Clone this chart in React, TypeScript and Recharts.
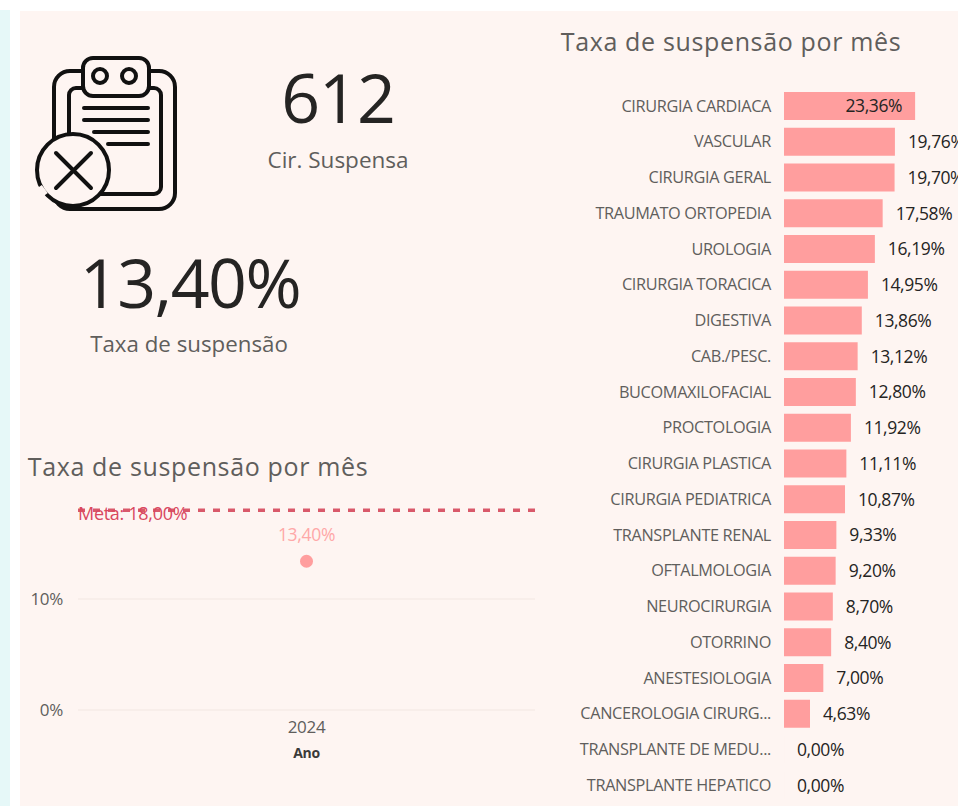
import {
  BarChart, Bar, XAxis, YAxis, LabelList,
  LineChart, Line, CartesianGrid, ReferenceLine,
} from 'recharts'

const especialidades = [
  'CIRURGIA CARDIACA', 'VASCULAR', 'CIRURGIA GERAL', 'TRAUMATO ORTOPEDIA', 'UROLOGIA',
  'CIRURGIA TORACICA', 'DIGESTIVA', 'CAB./PESC.', 'BUCOMAXILOFACIAL', 'PROCTOLOGIA',
  'CIRURGIA PLASTICA', 'CIRURGIA PEDIATRICA', 'TRANSPLANTE RENAL', 'OFTALMOLOGIA', 'NEUROCIRURGIA',
  'OTORRINO', 'ANESTESIOLOGIA', 'CANCEROLOGIA CIRURG...', 'TRANSPLANTE DE MEDU...', 'TRANSPLANTE HEPATICO',
]
const taxas = [
  23.36, 19.76, 19.7, 17.58, 16.19, 14.95, 13.86, 13.12, 12.8, 11.92,
  11.11, 10.87, 9.33, 9.2, 8.7, 8.4, 7.0, 4.63, 0, 0,
]
const anos = ['2024']
const taxaAno = [13.4]
const meta = 18
const ticksAno = [0, 10]

const barData = especialidades.map((nome, i) => ({ nome, taxa: taxas[i] }))
const lineData = anos.map((ano, i) => ({ ano, taxa: taxaAno[i] }))

const FONT = '"Open Sans", "Noto Sans", sans-serif'
const fmt = (v: number) => v.toFixed(2).replace('.', ',') + '%'

const ValueLabel = ({ x, y, width, height, value, index }: any) => {
  const inside = index === 0
  return (
    <text
      x={inside ? x + width - 13 : x + width + 13}
      y={y + height / 2}
      dy="0.36em"
      textAnchor={inside ? 'end' : 'start'}
      fontSize={17.5}
      letterSpacing={-0.4}
      fill="#252423"
    >
      {fmt(value)}
    </text>
  )
}

const MetaLabel = ({ viewBox }: any) => (
  <text x={viewBox.x} y={viewBox.y + 3} dy="0.36em" fontSize={18} letterSpacing={-0.3} fill="#d9485f">
    Meta: {fmt(meta)}
  </text>
)

const AnoTick = ({ x, y, payload }: any) => (
  <g>
    <text x={x} y={y + 9} dy="0.36em" textAnchor="middle" fontSize={17} letterSpacing={-0.3} fill="#605e5c">
      {payload.value}
    </text>
    <text x={x} y={y + 35} dy="0.36em" textAnchor="middle" fontSize={14} fontWeight={700} letterSpacing={-0.3} fill="#3b3a39">
      Ano
    </text>
  </g>
)

const PANEL = '#fef5f2'

const ClipboardIcon = () => (
  <svg width={160} height={170} style={{ position: 'absolute', left: 30, top: 50 }} fill="none" stroke="#111" strokeWidth={4} strokeLinecap="round">
    <rect x={24} y={21} width={121} height={138} rx={16} />
    <rect x={39} y={38} width={92} height={106} rx={7} />
    <rect x={53} y={8} width={66} height={38} rx={10} fill={PANEL} />
    <circle cx={70} cy={26} r={7} />
    <circle cx={99} cy={26} r={7} />
    <path d="M54 58H118M54 70H118M64 82H118M78 94H118" />
    <circle cx={43} cy={120} r={36} fill={PANEL} />
    <path d="M26 103L61 138M61 103L26 138" />
    <path d="M9 137L15 145" stroke={PANEL} strokeWidth={7} strokeLinecap="butt" />
  </svg>
)

const textStyle = (left: number, top: number, fontSize: number, color: string, extra = {}) => ({
  position: 'absolute' as const, left, top, fontSize, color, lineHeight: 1, whiteSpace: 'nowrap' as const,
  transform: 'translate(-50%, -50%)', ...extra,
})

export default function App() {
  return (
    <div style={{ position: 'absolute', left: 0, top: 0, width: 958, height: 806, overflow: 'hidden', background: '#fff', fontFamily: FONT }}>
      <div style={{ position: 'absolute', left: 0, top: 10, width: 10, height: 796, background: '#e6f8f8' }} />
      <div style={{ position: 'absolute', left: 20, top: 11, width: 938, height: 795, background: PANEL }} />

      <ClipboardIcon />
      <div style={textStyle(338, 97, 68, '#252423', { letterSpacing: -1 })}>612</div>
      <div style={textStyle(338, 160, 22.5, '#605e5c')}>Cir. Suspensa</div>
      <div style={textStyle(190, 282, 68, '#252423', { letterSpacing: -1.5 })}>13,40%</div>
      <div style={textStyle(189, 344, 22.3, '#605e5c')}>Taxa de suspensão</div>
      <div style={{ ...textStyle(731, 41, 25, '#605e5c'), letterSpacing: 0.65 }}>Taxa de suspensão por mês</div>
      <div style={{ ...textStyle(198, 466, 25, '#605e5c'), letterSpacing: 0.65 }}>Taxa de suspensão por mês</div>

      <div style={{ position: 'absolute', left: 0, top: 478 }}>
        <LineChart width={550} height={300} data={lineData} margin={{ top: 10, right: 15, bottom: 0, left: 0 }}>
          <CartesianGrid horizontal vertical={false} syncWithTicks stroke="#f8eeea" strokeWidth={2} />
          <XAxis dataKey="ano" height={68} axisLine={false} tickLine={false} tick={<AnoTick />} interval={0} />
          <YAxis
            width={78}
            domain={[0, 20]}
            ticks={ticksAno}
            tickFormatter={(v: number) => `${v}%`}
            axisLine={false}
            tickLine={false}
            tickSize={0}
            tickMargin={15}
            tick={{ fontSize: 17, fill: '#605e5c', letterSpacing: -0.3 }}
          />
          <ReferenceLine
            y={meta}
            stroke="#d9596a"
            strokeWidth={3.5}
            strokeDasharray="7 8"
            label={<MetaLabel />}
          />
          <Line
            dataKey="taxa"
            stroke="#ff9e9e"
            strokeWidth={3}
            dot={{ r: 6.5, fill: '#ff9e9e', stroke: '#ff9e9e', strokeWidth: 0 }}
            isAnimationActive={false}
          >
            <LabelList
              dataKey="taxa"
              position="top"
              offset={20}
              formatter={(v: any) => fmt(v)}
              fontSize={17.5}
              fill="#ffa8a8"
              letterSpacing={-0.3}
            />
          </Line>
        </LineChart>
      </div>

      <div style={{ position: 'absolute', left: 560, top: 88 }}>
        <BarChart width={398} height={715} layout="vertical" data={barData} barSize={28} margin={{ top: 0, right: 0, bottom: 0, left: 0 }}>
          <XAxis type="number" hide domain={[0, 31]} />
          <YAxis
            type="category"
            dataKey="nome"
            width={224}
            interval={0}
            axisLine={false}
            tickLine={false}
            tickSize={0}
            tickMargin={13}
            tick={{ fontSize: 16.3, fill: '#605e5c', letterSpacing: -0.35 }}
          />
          <Bar dataKey="taxa" fill="#ff9e9e" minPointSize={0.01} isAnimationActive={false}>
            <LabelList dataKey="taxa" content={<ValueLabel />} />
          </Bar>
        </BarChart>
      </div>
    </div>
  )
}
